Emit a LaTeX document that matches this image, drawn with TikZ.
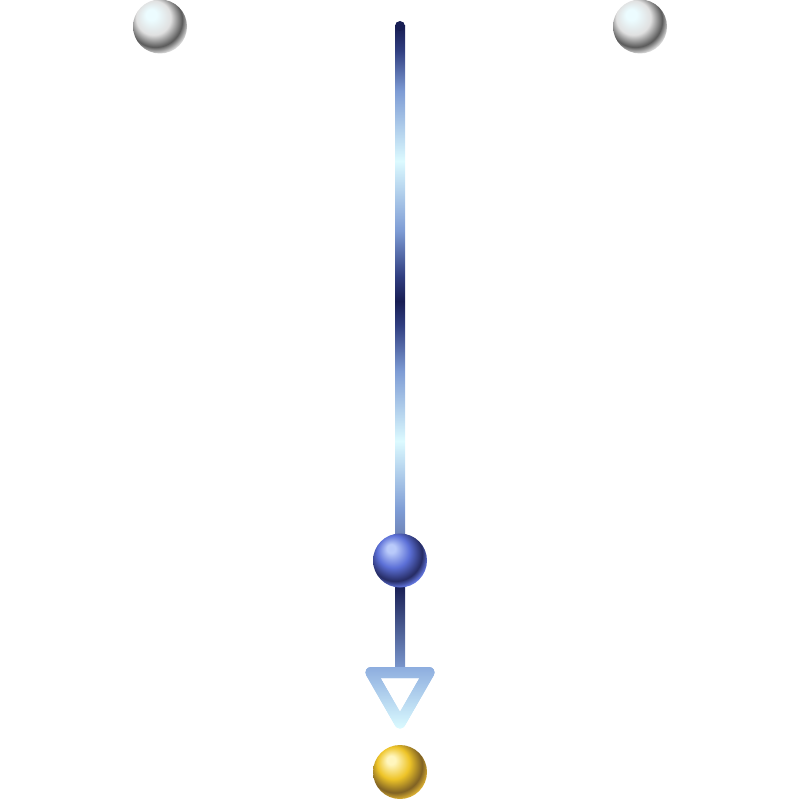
\documentclass[tikz,border=0pt]{standalone}
\usetikzlibrary{calc}
\definecolor{navyc}{RGB}{24,30,84}
\definecolor{navy2}{RGB}{48,62,128}
\definecolor{midb}{RGB}{125,155,212}
\definecolor{cyanc}{RGB}{220,250,255}
\definecolor{endc}{RGB}{112,134,186}
\definecolor{lowc}{RGB}{128,158,212}
\definecolor{tritop}{RGB}{140,172,222}
\definecolor{tribot}{RGB}{218,250,255}
\definecolor{hlw}{RGB}{236,252,255}
\definecolor{mainw}{RGB}{224,224,224}
\definecolor{darkw}{RGB}{90,90,90}
\definecolor{rimw}{RGB}{218,218,218}
\definecolor{hlb}{RGB}{185,202,250}
\definecolor{mainb}{RGB}{92,112,215}
\definecolor{darkb}{RGB}{38,44,100}
\definecolor{rimb}{RGB}{100,120,225}
\definecolor{hlg}{RGB}{255,246,190}
\definecolor{maing}{RGB}{238,196,40}
\definecolor{darkg}{RGB}{128,98,36}
\definecolor{rimg}{RGB}{218,175,50}
\pgfdeclareverticalshading{upline}{100bp}{color(0bp)=(endc); color(25bp)=(endc); color(27.17bp)=(midb); color(34.07bp)=(cyanc); color(40.98bp)=(midb); color(45.5bp)=(navy2); color(47.88bp)=(navyc); color(50.3bp)=(navy2); color(54.78bp)=(midb); color(61.69bp)=(cyanc); color(68.59bp)=(midb); color(72.6bp)=(navy2); color(75bp)=(navyc); color(100bp)=(navyc)}
\pgfdeclareradialshading{ballw}{\pgfpoint{-9bp}{12bp}}{color(0bp)=(hlw); color(5bp)=(hlw); color(16bp)=(mainw); color(25bp)=(darkw); color(30bp)=(rimw); color(50bp)=(rimw)}
\pgfdeclareradialshading{ballb}{\pgfpoint{-9bp}{12bp}}{color(0bp)=(hlb); color(4bp)=(hlb); color(15bp)=(mainb); color(25bp)=(darkb); color(30bp)=(rimb); color(50bp)=(rimb)}
\pgfdeclareradialshading{ballg}{\pgfpoint{-9bp}{12bp}}{color(0bp)=(hlg); color(4bp)=(hlg); color(15bp)=(maing); color(25bp)=(darkg); color(30bp)=(rimg); color(50bp)=(rimg)}
\tikzset{
  ballnode/.style={circle, inner sep=0pt, minimum size=54pt, draw=none},
}
\begin{document}
\begin{tikzpicture}[x=1pt,y=-1pt]
\useasboundingbox (0,0) rectangle (800,800);
% coordinates
\coordinate (top) at (400,26);
\coordinate (tri) at (400,672.5);
% upper shaded line
\shade[shading=upline] ($(top)+(-5,0)$) rectangle (405,533);
\fill[navyc] (top) circle[radius=5];
% lower line
\shade[top color=navyc, bottom color=lowc] (395,586) rectangle (405,673);
% open triangle arrowhead with vertical gradient
\foreach \i in {0,...,62}{
  \pgfmathsetmacro{\pc}{\i/62*100}
  \begin{scope}
    \clip (350,666+\i) rectangle (450,667.05+\i);
    \draw[draw=tribot!\pc!tritop, line width=11pt, line join=round]
      (371,672.5) -- (429,672.5) -- (400,723) -- cycle;
  \end{scope}
}
% balls
\node[ballnode, shading=ballw] (wl) at (160,26.5) {};
\node[ballnode, shading=ballw] (wr) at (640,26.5) {};
\node[ballnode, shading=ballb] (b) at (400,560.5) {};
\node[ballnode, shading=ballg] (g) at (400,772) {};
\end{tikzpicture}
\end{document}
